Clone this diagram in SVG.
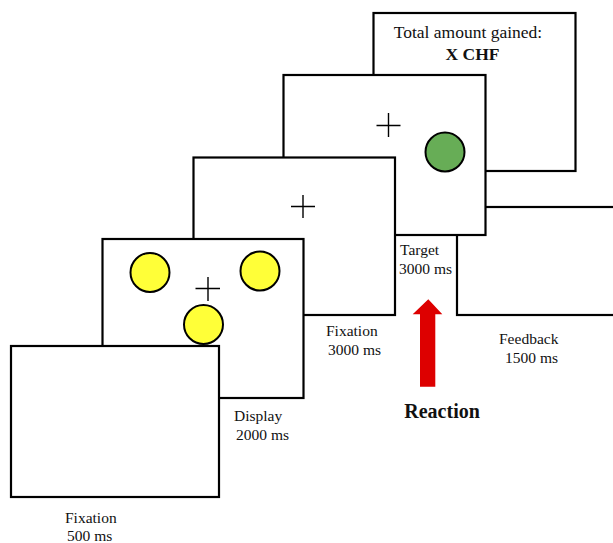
<svg xmlns="http://www.w3.org/2000/svg" width="613" height="543" viewBox="0 0 613 543">
<style>
.scr{fill:#ffffff;stroke:#000000;stroke-width:2.2}
.cross{stroke:#000000;stroke-width:1.4;fill:none}
.dot{stroke:#000000;stroke-width:2}
.yel{fill:#ffff38}
.grn{fill:#67ad56}
.lbl{font-family:"Liberation Serif","Times New Roman",serif;font-size:15.5px;fill:#111111}
.big{font-family:"Liberation Serif","Times New Roman",serif;font-size:17.5px;fill:#111111}
.bold{font-weight:bold}
</style>
<rect width="613" height="543" fill="#ffffff"/>
<g id="feedback-total">
<rect class="scr" x="373.5" y="13" width="202" height="158"/>
<text class="big" x="468" y="38" text-anchor="middle">Total amount gained:</text>
<text class="big bold" x="472.5" y="60" text-anchor="middle">X CHF</text>
</g>
<g id="feedback">
<rect class="scr" x="457" y="207" width="200" height="108"/>
<text class="lbl" x="499" y="344">Feedback</text>
<text class="lbl" x="505" y="363">1500 ms</text>
</g>
<g id="target">
<rect class="scr" x="283.5" y="75" width="202" height="160"/>
<path class="cross" d="M376.5 125.5H400.5M388.5 113V137"/>
<circle class="dot grn" cx="445" cy="152" r="19.5"/>
<text class="lbl" x="400" y="255">Target</text>
<text class="lbl" x="399" y="274">3000 ms</text>
</g>
<g id="fixation2">
<rect class="scr" x="193.5" y="157.5" width="201.5" height="157.5"/>
<path class="cross" d="M291 206.5H315M303 195V218"/>
<text class="lbl" x="326" y="336">Fixation</text>
<text class="lbl" x="328" y="355">3000 ms</text>
</g>
<g id="display">
<rect class="scr" x="102.5" y="239" width="201" height="159"/>
<path class="cross" d="M195.5 288.5H220M208 277V301"/>
<circle class="dot yel" cx="150" cy="272.5" r="19.5"/>
<circle class="dot yel" cx="260" cy="271" r="19.5"/>
<circle class="dot yel" cx="203.5" cy="324.5" r="19.5"/>
<text class="lbl" x="234" y="421">Display</text>
<text class="lbl" x="236" y="440">2000 ms</text>
</g>
<g id="fixation1">
<rect class="scr" x="11" y="346" width="208" height="151"/>
<text class="lbl" x="65" y="523">Fixation</text>
<text class="lbl" x="67" y="541">500 ms</text>
</g>
<g id="connectors">
<path id="reaction-arrow" d="M428.3 299.3L442.3 314.3H435.3V386.7H420V314.3H412.7Z" fill="#dd0000"/>
</g>
<g id="reaction">
<text class="lbl bold" x="404.3" y="418.3" style="font-size:20px">Reaction</text>
</g>
</svg>
